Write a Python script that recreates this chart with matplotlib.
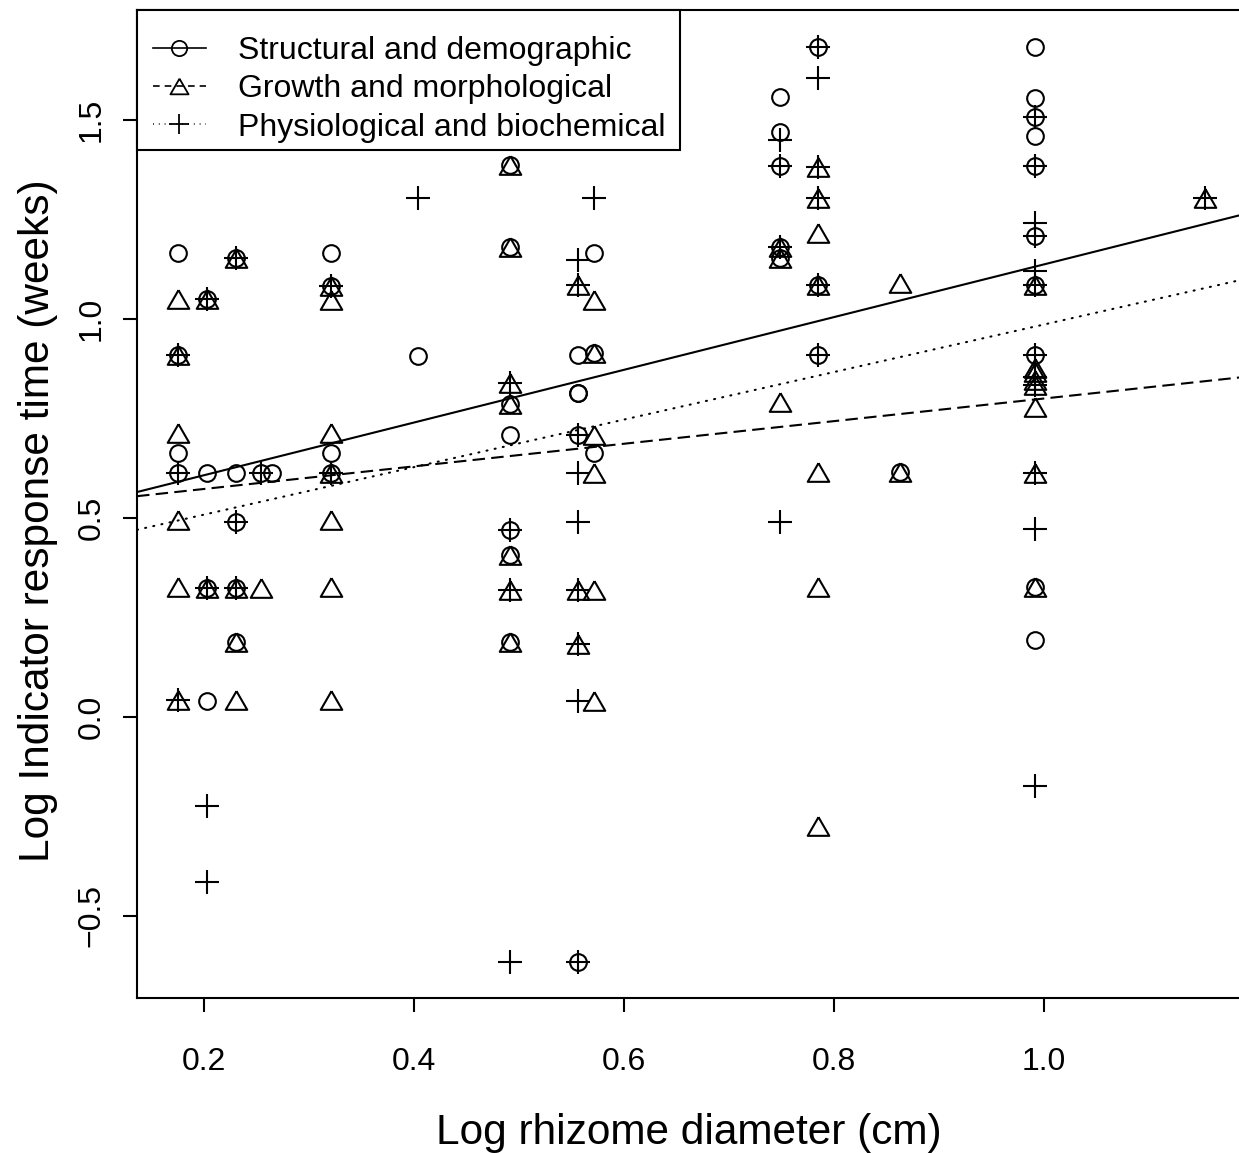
import numpy as np
import matplotlib
matplotlib.use("Agg")
import matplotlib.pyplot as plt
from matplotlib.lines import Line2D
from matplotlib.patches import Rectangle

plt.rcParams['font.family'] = ['Liberation Sans', 'DejaVu Sans']

# Structural and demographic indicators (circles)
s_x = [0.175, 0.175, 0.175, 0.175,
       0.203, 0.203, 0.203, 0.203,
       0.230, 0.230, 0.230, 0.230, 0.230,
       0.254, 0.265,
       0.321, 0.321, 0.321, 0.321,
       0.404,
       0.491, 0.491, 0.491, 0.491, 0.491, 0.491, 0.491,
       0.556, 0.556, 0.556, 0.556, 0.556,
       0.571, 0.571, 0.571,
       0.748, 0.748, 0.748, 0.748, 0.748,
       0.785, 0.785, 0.785,
       0.863,
       0.991, 0.991, 0.991, 0.991, 0.991, 0.991, 0.991, 0.991, 0.991, 0.991]
s_y = [1.166, 0.909, 0.663, 0.613,
       1.050, 0.613, 0.324, 0.040,
       1.153, 0.613, 0.490, 0.324, 0.188,
       0.613, 0.613,
       1.166, 1.083, 0.663, 0.613,
       0.907,
       1.387, 1.180, 0.786, 0.709, 0.470, 0.407, 0.188,
       0.909, 0.814, 0.814, 0.709, -0.616,
       1.166, 0.914, 0.663,
       1.558, 1.470, 1.384, 1.180, 1.153,
       1.683, 1.085, 0.909,
       0.616,
       1.683, 1.555, 1.508, 1.460, 1.384, 1.209, 1.085, 0.909, 0.327, 0.193]

# Growth and morphological indicators (triangles)
g_x = [0.175, 0.175, 0.175, 0.175, 0.175, 0.175,
       0.203, 0.203,
       0.230, 0.230, 0.230, 0.230,
       0.254,
       0.321, 0.321, 0.321, 0.321, 0.321, 0.321, 0.321,
       0.491, 0.491, 0.491, 0.491, 0.491, 0.491, 0.491,
       0.556, 0.556, 0.556,
       0.571, 0.571, 0.571, 0.571, 0.571, 0.571,
       0.748, 0.748, 0.748,
       0.785, 0.785, 0.785, 0.785, 0.785, 0.785, 0.785,
       0.863, 0.863,
       0.991, 0.991, 0.991, 0.991, 0.991, 0.991, 0.991, 0.991,
       1.153]
g_y = [1.050, 0.909, 0.713, 0.495, 0.327, 0.043,
       1.050, 0.324,
       1.153, 0.324, 0.188, 0.043,
       0.324,
       1.083, 1.048, 0.713, 0.613, 0.495, 0.327, 0.043,
       1.387, 1.180, 0.839, 0.786, 0.407, 0.319, 0.188,
       1.085, 0.319, 0.183,
       1.048, 0.914, 0.709, 0.613, 0.319, 0.040,
       1.180, 1.153, 0.791,
       1.382, 1.304, 1.216, 1.085, 0.616, 0.327, -0.274,
       1.090, 0.616,
       1.085, 0.877, 0.867, 0.847, 0.834, 0.779, 0.613, 0.327,
       1.304]

# Physiological and biochemical indicators (crosses)
p_x = [0.175, 0.175, 0.175,
       0.203, 0.203, 0.203, 0.203,
       0.230, 0.230, 0.230,
       0.254,
       0.321, 0.321,
       0.404,
       0.491, 0.491, 0.491, 0.491,
       0.556, 0.556, 0.556, 0.556, 0.556, 0.556, 0.556, 0.556, 0.556,
       0.571,
       0.748, 0.748, 0.748, 0.748,
       0.785, 0.785, 0.785, 0.785, 0.785, 0.785,
       0.991, 0.991, 0.991, 0.991, 0.991, 0.991, 0.991, 0.991, 0.991, 0.991, 0.991, 0.991,
       1.153]
p_y = [0.909, 0.613, 0.043,
       1.050, 0.324, -0.224, -0.415,
       1.153, 0.490, 0.324,
       0.613,
       1.083, 0.613,
       1.304,
       0.839, 0.470, 0.319, -0.616,
       1.148, 1.085, 0.709, 0.613, 0.490, 0.319, 0.183, 0.040, -0.616,
       1.304,
       1.450, 1.384, 1.180, 0.490,
       1.683, 1.605, 1.382, 1.304, 1.085, 0.909,
       1.508, 1.384, 1.241, 1.209, 1.121, 1.085, 0.909, 0.854, 0.834, 0.613, 0.472, -0.173,
       1.304]

# Fitted regression lines: (intercept, slope)
s_fit = (0.475, 0.662)
g_fit = (0.516, 0.284)
p_fit = (0.389, 0.597)

labels = ["Structural and demographic",
          "Growth and morphological",
          "Physiological and biochemical"]

xticks = [0.2, 0.4, 0.6, 0.8, 1.0]
yticks = [-0.5, 0.0, 0.5, 1.0, 1.5]

W, H = 1239, 1153
fig = plt.figure(figsize=(W / 100, H / 100), dpi=100)
ax_w = 1 - 137 / W + 0.002
ax = fig.add_axes([137 / W, 1 - 998 / H, ax_w, (998 - 10) / H])
ax_wpx = ax_w * W
ax_hpx = 988

tri = [(0, 0.78), (-0.9, -0.78), (0.9, -0.78), (0, 0.78)]

ax.plot(s_x, s_y, linestyle='none', marker='o', ms=12, mfc='none',
        mec='black', mew=1.5, clip_on=False)
ax.plot(g_x, g_y, linestyle='none', marker=tri, ms=15.5, mfc='none',
        mec='black', mew=1.5, clip_on=False)
ax.plot(p_x, p_y, linestyle='none', marker='+', ms=17, mec='black',
        mew=1.5, clip_on=False)

xlim = (0.136, 1.188)
ylim = (-0.706, 1.776)
xx = np.array(xlim)
ax.plot(xx, s_fit[0] + s_fit[1] * xx, color='black', lw=1.5, linestyle='-')
ax.plot(xx, g_fit[0] + g_fit[1] * xx, color='black', lw=1.5, linestyle=(0, (6, 3)))
ax.plot(xx, p_fit[0] + p_fit[1] * xx, color='black', lw=1.5, linestyle=(0, (0.5, 3.5)),
        dash_capstyle='round')

ax.set_xlim(*xlim)
ax.set_ylim(*ylim)
ax.set_xticks(xticks)
ax.set_xticklabels([f"{t:.1f}" for t in xticks])
ax.set_yticks(yticks)
ax.set_yticklabels([f"{t:.1f}".replace('-', '\u2212') for t in yticks],
                   rotation=90, va='center')
ax.tick_params(axis='both', direction='out', length=10, width=1.5,
               labelsize=23, color='black')
ax.tick_params(axis='x', pad=25)
ax.tick_params(axis='y', pad=12)
for sp in ax.spines.values():
    sp.set_linewidth(1.5)

ax.set_xlabel("Log rhizome diameter (cm)", fontsize=30.5, labelpad=26)
ax.set_ylabel("Log Indicator response time (weeks)", fontsize=30.5)
ax.yaxis.set_label_coords(-(137 - 58) / ax_wpx, (998 - 521) / ax_hpx)

handles = [
    Line2D([], [], color='black', lw=1.2, linestyle='-', marker='o', ms=11,
           mfc='none', mew=1.3),
    Line2D([], [], color='black', lw=1.2, linestyle=(0, (4, 3)), marker=tri,
           ms=13, mfc='none', mew=1.3),
    Line2D([], [], color='black', lw=1.2, linestyle=(0, (0.5, 3)), marker='+',
           ms=15, mew=1.3),
]
leg = ax.legend(handles, labels, loc='upper left',
                bbox_to_anchor=(0, 1 - 10 / ax_hpx),
                borderaxespad=0, fontsize=23, frameon=False,
                handlelength=1.65, handletextpad=1.0, labelspacing=0.26,
                borderpad=0.5)

# Legend box outline
box_w, box_h = 543, 140
ax.add_patch(Rectangle((0, 1 - box_h / ax_hpx), box_w / ax_wpx, box_h / ax_hpx,
                       transform=ax.transAxes, facecolor='white',
                       edgecolor='black', lw=1.5, zorder=4, clip_on=False))
leg.set_zorder(5)

fig.savefig("out.png", dpi=100, facecolor='white')
